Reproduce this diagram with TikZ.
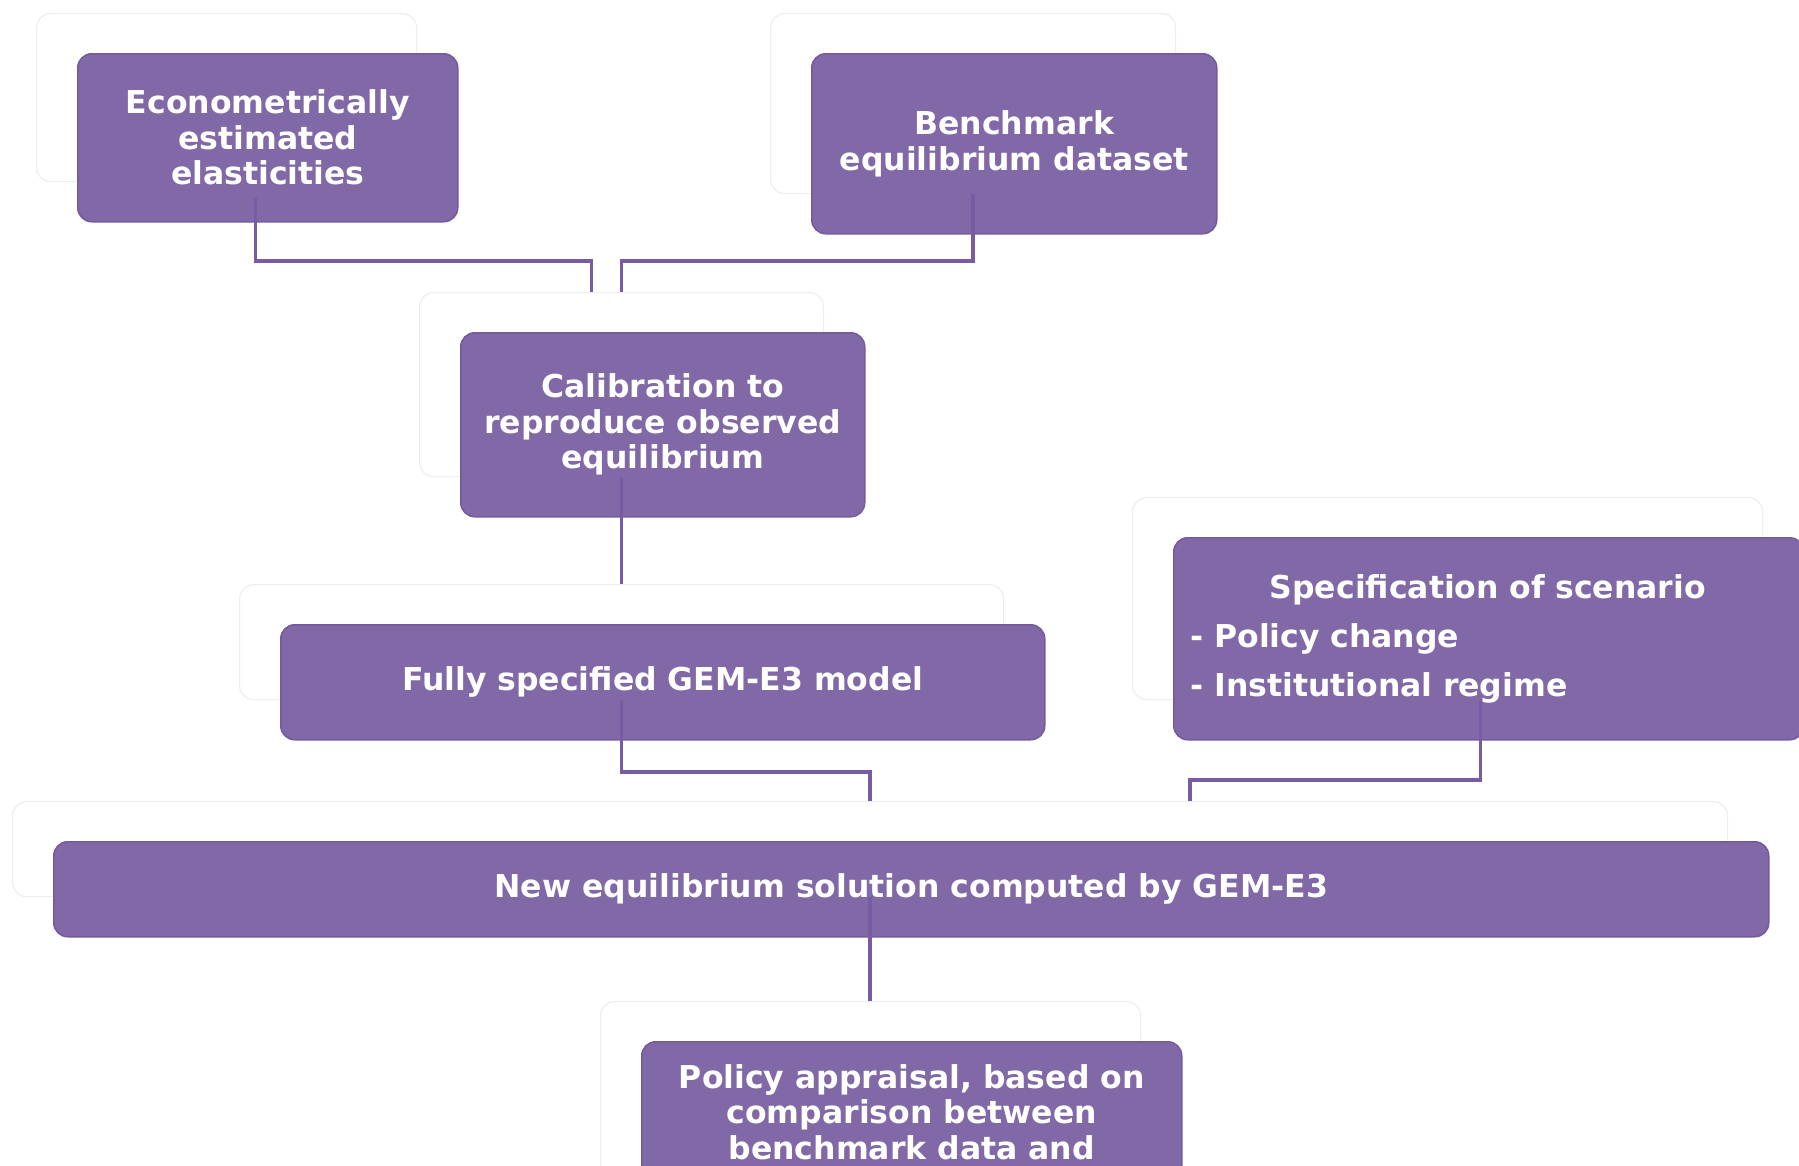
\documentclass[tikz,border=0pt]{standalone}
\usepackage{fontspec}
\setmainfont{DejaVu Sans}
\definecolor{stagefill}{RGB}{129,104,167}
\definecolor{stageedge}{RGB}{116,90,158}
\definecolor{linkcol}{RGB}{120,92,163}
\definecolor{ghostedge}{RGB}{238,238,240}

\begin{document}
\begin{tikzpicture}[x=1pt,y=-1pt,
    boxsize/.style 2 args={minimum width=#1pt, minimum height=#2pt},
    ghost/.style={draw=ghostedge, line width=1.2pt, fill=white, rounded corners=14pt, anchor=north west, inner sep=0pt},
    stage/.style={draw=stageedge, line width=1.5pt, fill=stagefill, rounded corners=14pt, anchor=north west, inner sep=0pt,
        text=white, align=center, font=\bfseries\fontsize{31.5}{35.5}\selectfont},
    link/.style={draw=linkcol, line width=3.5pt}]
    \useasboundingbox (0,0) rectangle (1799,1165);
    \clip (0,0) rectangle (1799,1165);

    \node[ghost, boxsize={380}{168}] (gE) at (36,13) {};
    \node[ghost, boxsize={405}{180}] (gB) at (770,13) {};
    \node[ghost, boxsize={404}{184}] (gC) at (419,292) {};
    \node[ghost, boxsize={764}{115}] (gF) at (239,584) {};
    \node[ghost, boxsize={630}{202}] (gS) at (1132,497) {};
    \node[ghost, boxsize={1715}{95}] (gN) at (12,801) {};
    \node[ghost, boxsize={540}{220}] (gP) at (600,1001) {};

    \node[stage, boxsize={380}{168}] (elast) at ([shift={(41,40)}]gE.north west) {Econometrically\\estimated\\elasticities};
    \node[stage, boxsize={405}{180}] (bench) at ([shift={(41,40)}]gB.north west) {Benchmark\\equilibrium dataset};
    \node[stage, boxsize={404}{184}] (calib) at ([shift={(41,40)}]gC.north west) {Calibration to\\reproduce observed\\equilibrium};
    \node[stage, boxsize={764}{115}] (model) at ([shift={(41,40)}]gF.north west) {Fully specified GEM-E3 model};
    \node[stage, boxsize={630}{202}, text width=596pt, align=left, font=\bfseries\fontsize{31.5}{49}\selectfont] (scen) at ([shift={(41,40)}]gS.north west)
        {\hspace*{79pt}Specification of scenario\\- Policy change\\- Institutional regime};
    \node[stage, boxsize={1715}{95}] (newsol) at ([shift={(41,40)}]gN.north west) {New equilibrium solution computed by GEM-E3};
    \node[stage, boxsize={540}{140}] (apprais) at ([shift={(41,40)}]gP.north west) {Policy appraisal, based on\\comparison between\\benchmark data and};

    \draw[link] ([xshift=29pt,yshift=-16pt]gE.south) -- ++(0,63) -| ([xshift=-30pt]gC.north);
    \draw[link] (gB.south) -- ++(0,67) -| (gC.north);
    \draw[link] (gC.south) -- (gF.north);
    \draw[link] (gF.south) -- ++(0,72) -| (gN.north);
    \draw[link] ([xshift=33pt]gS.south) -- ++(0,80) -| ([xshift=320pt]gN.north);
    \draw[link] (gN.south) -- (gN.south |- gP.north);
\end{tikzpicture}
\end{document}
